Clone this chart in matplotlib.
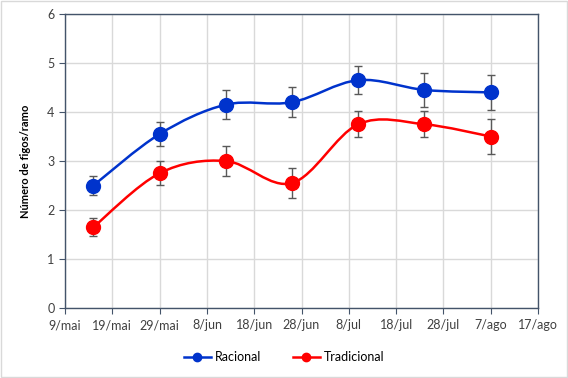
import matplotlib.pyplot as plt
import matplotlib.dates as mdates
from matplotlib.path import Path
from matplotlib.patches import PathPatch, Rectangle
import numpy as np
from datetime import date

plt.rcParams['font.family'] = ['Lato', 'DejaVu Sans']

# dados
datas = ['2021-05-15', '2021-05-29', '2021-06-12', '2021-06-26',
         '2021-07-10', '2021-07-24', '2021-08-07']
racional = [2.5, 3.55, 4.15, 4.2, 4.65, 4.45, 4.4]
racional_err = [0.2, 0.25, 0.3, 0.31, 0.28, 0.34, 0.35]
tradicional = [1.65, 2.75, 3.0, 2.55, 3.75, 3.75, 3.5]
tradicional_err = [0.18, 0.24, 0.3, 0.31, 0.27, 0.27, 0.35]
series = [('Racional', racional, racional_err, '#0033cc'),
          ('Tradicional', tradicional, tradicional_err, '#ff0000')]
meses = {5: 'mai', 6: 'jun', 7: 'jul', 8: 'ago'}

x = mdates.datestr2num(datas)


def smooth_path(xs, ys):
    # curva suave tipo Excel (bezier com controlos catmull-rom /6)
    pts = np.column_stack([xs, ys])
    verts = [pts[0]]
    codes = [Path.MOVETO]
    n = len(pts)
    for i in range(n - 1):
        p0 = pts[i - 1] if i > 0 else pts[i]
        p1 = pts[i]
        p2 = pts[i + 1]
        p3 = pts[i + 2] if i + 2 < n else pts[i + 1]
        c1 = p1 + (p2 - p0) / 6
        c2 = p2 - (p3 - p1) / 6
        verts += [c1, c2, p2]
        codes += [Path.CURVE4] * 3
    return Path(verts, codes)


fig = plt.figure(figsize=(5.68, 3.78), dpi=100)
ax = fig.add_axes([65 / 568, 1 - 308 / 378, 473 / 568, 294 / 378])

for nome, ys, err, cor in series:
    ax.add_patch(PathPatch(smooth_path(x, ys), facecolor='none',
                           edgecolor=cor, lw=1.8, zorder=3))
    ax.errorbar(x, ys, yerr=err, fmt='none', ecolor='#595959',
                elinewidth=1, capsize=3, capthick=1, zorder=4)
    ax.plot(x, ys, 'o', color=cor, ms=10, zorder=5)
    ax.plot([], [], '-o', color=cor, ms=6, lw=1.8, label=nome)

inicio = mdates.date2num(date(2021, 5, 9))
ax.set_xlim(inicio, inicio + 100)
ax.set_ylim(0, 6)
ticks = np.arange(inicio, inicio + 101, 10)
ax.set_xticks(ticks)
ax.set_xticklabels([f"{mdates.num2date(t).day}/{meses[mdates.num2date(t).month]}"
                    for t in ticks])
ax.set_yticks(range(0, 7))
ax.grid(True, color='#d9d9d9', lw=1)
ax.set_axisbelow(True)
for s in ax.spines.values():
    s.set_color('#44546a')
    s.set_linewidth(1)
ax.tick_params(colors='#404040', labelsize=9, length=4, color='#44546a')
ax.tick_params(axis='x', pad=4)
ax.set_ylabel('Número de figos/ramo', fontsize=8, fontweight='bold', labelpad=12)

fig.legend(loc='center', bbox_to_anchor=(0.5, 1 - 357 / 378), ncol=2,
           frameon=False, fontsize=9, handlelength=2.2, columnspacing=2.5,
           handletextpad=0.3)

fig.patches.append(Rectangle((0.002, 0.003), 0.996, 0.994, transform=fig.transFigure,
                             fill=False, edgecolor='#d9d9d9', lw=1))

fig.savefig('out.png', dpi=100)
